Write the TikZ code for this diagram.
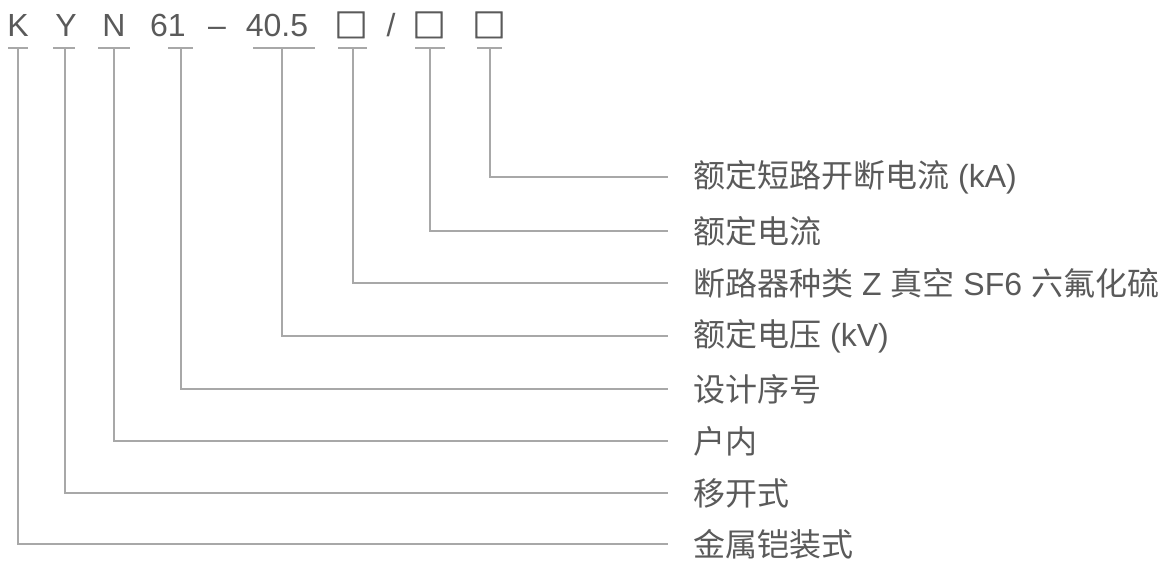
\documentclass[tikz,border=0pt]{standalone}
\usepackage{fontspec}
\setmainfont{Liberation Sans}
\newfontfamily\cjk{Noto Sans CJK SC}
\newfontfamily\cjkbox[FakeBold=2]{Noto Sans CJK SC}
\definecolor{txt}{HTML}{5A5A5A}
\definecolor{ln}{HTML}{A8A8A8}
\begin{document}
\begin{tikzpicture}[x=1pt,y=1pt,
  top/.style={text=txt,font=\fontsize{32}{34}\selectfont,inner sep=0pt,anchor=base},
  boxch/.style={text=txt,font=\cjkbox\fontsize{33}{35}\selectfont,inner sep=0pt,anchor=base},
  lab/.style={text=txt,font=\fontsize{32}{34}\selectfont,inner sep=0pt,anchor=west},
  uline/.style={draw=ln,line width=1.4pt},
  conn/.style={draw=ln,line width=1.4pt}]
\useasboundingbox (0,0) rectangle (1166,-561);
% top row
\node[top] (tK) at (18,-37) {K};
\node[top] (tY) at (66,-37) {Y};
\node[top] (tN) at (114,-37) {N};
\node[top] (t61) at (168,-37) {61};
\node[top] (tdash) at (217,-37) {–};
\node[top] (t40) at (277,-37) {40.5};
\node[boxch] (tb1) at (351,-37.5) {□};
\node[top] (tsl) at (391,-37) {/};
\node[boxch] (tb2) at (429,-37.5) {□};
\node[boxch] (tb3) at (489,-37.5) {□};
% underlines
\draw[uline] (8,-48) -- (28,-48);
\draw[uline] (53,-48) -- (75,-48);
\draw[uline] (98,-48) -- (130,-48);
\draw[uline] (168,-48) -- (193,-48);
\draw[uline] (253,-48) -- (315,-48);
\draw[uline] (338,-48) -- (367,-48);
\draw[uline] (415,-48) -- (445,-48);
\draw[uline] (477,-48) -- (502,-48);
\coordinate (uK) at (18,-48);
\coordinate (uY) at (65,-48);
\coordinate (uN) at (114,-48);
\coordinate (u61) at (181,-48);
\coordinate (u40) at (282,-48);
\coordinate (ub1) at (353,-48);
\coordinate (ub2) at (430,-48);
\coordinate (ub3) at (490,-48);
% labels
\node[lab] (l1) at (693,-177) {\cjk 额定短路开断电流\normalfont{} (kA)};
\node[lab] (l2) at (693,-231) {\cjk 额定电流};
\node[lab] (l3) at (693,-283) {\cjk 断路器种类\normalfont{} Z {\cjk 真空} SF6 {\cjk 六氟化硫}};
\node[lab] (l4) at (693,-336) {\cjk 额定电压\normalfont{} (kV)};
\node[lab] (l5) at (693,-389) {\cjk 设计序号};
\node[lab] (l6) at (693,-441) {\cjk 户内};
\node[lab] (l7) at (693,-493) {\cjk 移开式};
\node[lab] (l8) at (693,-544) {\cjk 金属铠装式};
% connectors
\draw[conn] (ub3) |- ([xshift=-25pt]l1.west);
\draw[conn] (ub2) |- ([xshift=-25pt]l2.west);
\draw[conn] (ub1) |- ([xshift=-25pt]l3.west);
\draw[conn] (u40) |- ([xshift=-25pt]l4.west);
\draw[conn] (u61) |- ([xshift=-25pt]l5.west);
\draw[conn] (uN) |- ([xshift=-25pt]l6.west);
\draw[conn] (uY) |- ([xshift=-25pt]l7.west);
\draw[conn] (uK) |- ([xshift=-25pt]l8.west);
\end{tikzpicture}
\end{document}
